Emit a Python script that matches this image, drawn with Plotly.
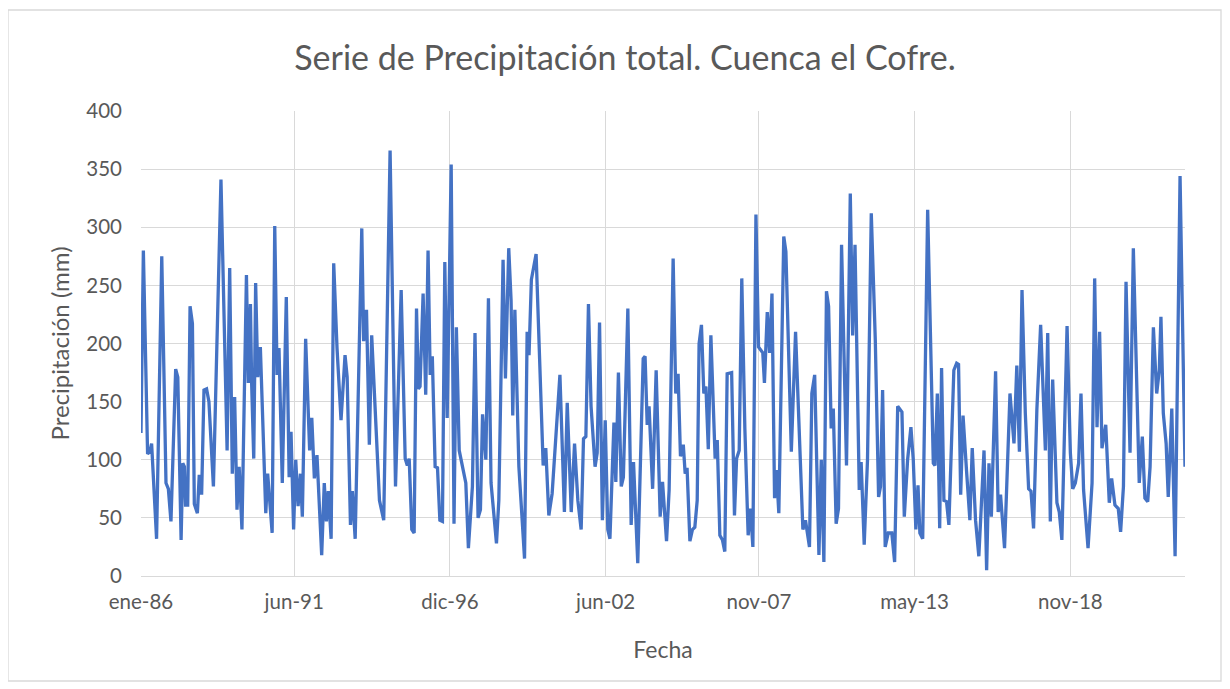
import pandas as pd
import numpy as np
import plotly.graph_objects as go

# Meses transcurridos desde ene-1986 y precipitación (mm)
mes = [0.0,1.0,2.8,3.8,4.5,6.6,8.8,10.6,11.6,12.7,14.7,15.6,17.0,17.7,18.4,18.9,19.8,20.8,21.8,22.6,23.9,24.7,25.7,26.7,27.8,28.8,30.7,33.9,
       36.5,37.6,38.7,39.7,40.7,41.6,42.8,44.7,45.5,46.4,46.9,47.8,48.6,49.5,50.6,52.9,53.7,55.6,56.7,57.7,58.5,59.9,61.6,62.8,63.6,64.7,65.6,66.6,67.6,68.4,69.8,71.5,72.4,
       73.5,74.6,76.6,77.7,78.6,79.4,80.6,81.7,83.1,84.8,86.5,87.4,88.8,89.6,90.8,93.6,94.4,95.6,96.8,97.8,101.1,102.9,105.6,107.9,110.3,
       112.0,112.9,113.7,114.8,115.8,116.8,117.6,118.3,119.6,120.7,121.7,122.6,123.5,124.7,125.7,126.7,127.8,128.8,129.8,131.5,132.7,133.7,134.9,136.3,137.7,138.8,140.5,141.6,142.9,143.9,144.8,146.2,147.3,
       148.4,150.7,151.7,153.5,154.5,155.9,156.9,157.6,158.5,160.2,162.6,163.7,164.5,165.5,167.5,170.5,171.6,172.9,174.3,177.6,179.5,180.7,182.4,183.8,
       185.2,186.6,187.6,188.6,189.7,190.8,192.5,193.4,194.4,195.6,196.8,197.9,198.8,200.5,201.3,202.4,203.6,204.5,206.4,207.8,208.8,210.6,212.9,213.7,214.6,215.4,216.9,218.4,220.1,221.1,
       222.8,223.9,225.6,226.7,227.7,228.7,229.9,230.7,231.5,232.7,233.8,234.8,235.8,236.6,237.6,238.6,239.5,240.5,241.6,242.6,243.4,244.3,245.4,246.5,247.5,248.5,250.4,251.6,252.5,253.6,254.7,256.0,257.4,258.4,259.4,
       260.7,261.8,263.6,264.3,265.5,266.5,267.5,268.6,269.4,270.4,272.5,273.4,275.7,277.5,280.6,281.7,283.4,284.4,285.6,287.4,288.4,289.5,290.6,291.5,292.6,293.5,294.7,295.7,297.0,
       299.1,300.7,301.7,302.7,303.8,304.5,305.3,306.6,308.0,309.6,311.3,312.7,313.5,314.4,315.5,316.8,318.3,319.5,320.8,322.6,323.6,325.0,326.4,327.4,328.5,329.4,330.2,331.4,333.5,
       335.9,336.6,337.6,338.6,339.4,340.4,341.5,342.5,344.6,345.8,346.6,347.5,348.5,350.0,351.4,352.4,353.8,355.2,357.4,358.5,359.5,360.5,362.3,363.4,364.4,366.1,368.4,370.1,371.3,
       372.4,373.5,374.9,376.3,377.3,378.4,379.8,381.4,383.4,384.4,385.5,386.5,388.3,389.3,390.4,392.6,394.0,395.0,396.1,397.5,398.5,399.6,401.5,403.2,404.3,405.3,406.4,407.4,409.0,
       410.5,411.5,412.9,414.3,415.3,416.5,417.6,419.3,420.7,423.2,424.5,425.6,426.8,427.8,429.2,430.6,431.7,432.4,433.4,434.6,435.5,437.0,438.4,440.5,442.6]

precip = [123,280,105,107,114,32,275,80,75,47,178,171,31,97,94,61,61,232,217,62,54,87,70,160,161,150,77,341,
          108,265,88,154,57,94,40,259,166,234,166,101,252,171,197,54,88,37,301,173,196,80,240,85,124,40,100,60,88,51,204,108,136,
          84,104,18,80,47,73,32,269,196,134,190,171,44,73,32,299,202,229,113,207,65,48,366,77,246,
          101,95,101,40,37,230,161,163,243,156,280,173,189,94,93,48,47,270,136,354,45,214,108,95,80,24,77,209,50,57,139,100,239,
          80,28,65,272,170,282,237,138,229,94,15,210,190,255,277,95,110,52,71,173,55,149,55,114,
          65,40,118,120,234,146,94,106,218,48,134,40,32,132,81,175,77,85,230,44,98,11,187,189,130,146,75,177,51,81,
          30,74,273,157,174,103,113,88,93,30,40,42,65,200,216,157,163,109,207,151,101,117,35,31,21,174,175,52,101,108,256,127,35,58,25,
          311,197,192,166,227,192,243,67,91,54,292,279,107,210,40,48,25,157,173,18,100,12,245,232,127,144,45,58,285,
          95,329,207,285,134,74,98,27,100,312,203,68,77,160,25,37,37,12,146,141,51,100,128,100,40,78,37,32,315,
          97,95,157,41,179,65,64,44,177,183,182,70,138,90,48,110,48,17,108,5,97,51,176,55,70,24,157,114,181,
          107,246,140,75,73,41,143,216,108,209,47,169,63,55,31,215,106,75,80,97,157,74,24,80,256,128,210,110,130,
          63,84,61,58,38,77,253,106,282,80,120,67,64,94,214,157,177,223,140,114,68,144,17,344,94]

tick_fechas = ["1986-01-01", "1991-06-01", "1996-12-01", "2002-06-01", "2007-11-01", "2013-05-01", "2018-11-01"]
tick_etiquetas = ["ene-86", "jun-91", "dic-96", "jun-02", "nov-07", "may-13", "nov-18"]

inicio = pd.Timestamp("1986-01-01")
fechas = inicio + pd.to_timedelta(np.array(mes) * 30.4375, unit="D")

gris_txt = "#595959"
gris_grid = "#d9d9d9"
fuente = "Lato, 'Open Sans', sans-serif"

fig = go.Figure()
fig.add_trace(go.Scatter(
    x=fechas, y=precip, mode="lines",
    line=dict(color="#4472C4", width=3.3),
    hoverinfo="x+y", showlegend=False,
))

L, R, T, B = 133, 53, 103, 121
pw, ph = 1230 - L - R, 689 - T - B

fig.update_layout(
    width=1230, height=689,
    margin=dict(l=L, r=R, t=T, b=B),
    paper_bgcolor="white", plot_bgcolor="white",
    font=dict(family=fuente, color=gris_txt),
    title=dict(text="Serie de Precipitación total. Cuenca el Cofre.",
               x=617/1230, xanchor="center", y=1 - 50/689, yanchor="middle",
               font=dict(size=34, color=gris_txt, family=fuente)),
    xaxis=dict(
        type="date",
        range=[fechas[0], fechas[-1]],
        tickmode="array", tickvals=tick_fechas, ticktext=tick_etiquetas,
        showgrid=True, gridcolor=gris_grid, gridwidth=1.3,
        showline=True, linecolor=gris_grid, linewidth=1.3,
        ticks="", ticklabelstandoff=7,
        tickfont=dict(size=20.5, color=gris_txt),
        title=dict(text="Fecha", font=dict(size=23, color=gris_txt), standoff=30),
        zeroline=False,
    ),
    yaxis=dict(
        range=[0, 400], dtick=50, tick0=0,
        showgrid=True, gridcolor=gris_grid, gridwidth=1.3,
        showline=False, zeroline=False,
        ticks="", ticklabelstandoff=18,
        tickfont=dict(size=20.5, color=gris_txt),
        title=dict(text="Precipitación (mm)", font=dict(size=24, color=gris_txt), standoff=9),
    ),
)

# Borde del área del gráfico (en fracciones del área de trazado)
fig.add_shape(type="rect", xref="paper", yref="paper",
              x0=-L / pw, x1=(1213 - L) / pw,
              y0=-(681 - 576) / ph, y1=(576 - 10) / ph,
              line=dict(color=gris_grid, width=1.3), layer="below")

fig.write_html("out.html")
